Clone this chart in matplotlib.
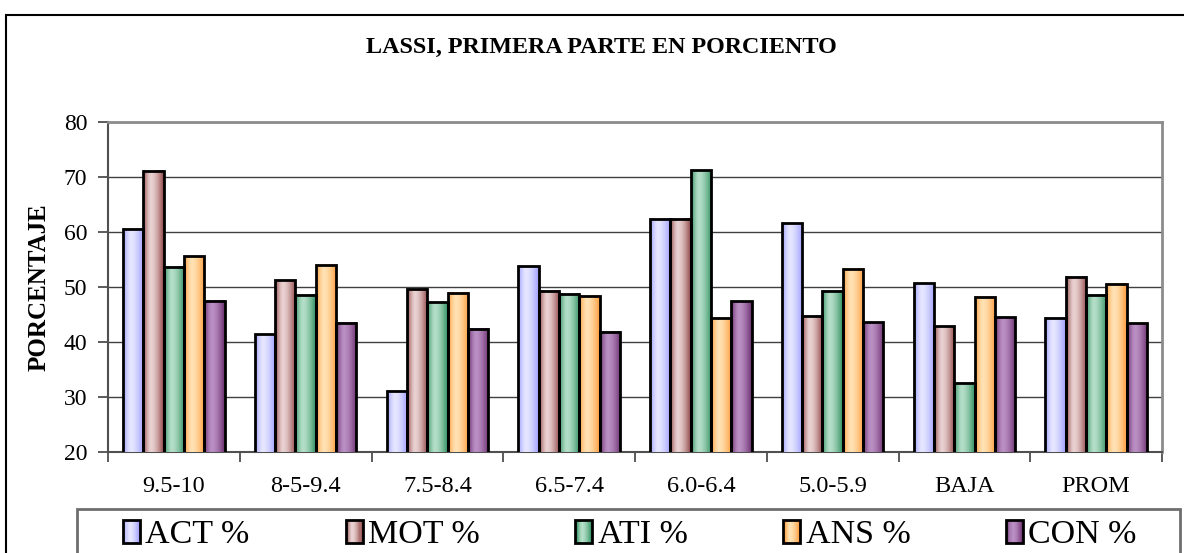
import numpy as np
import matplotlib
matplotlib.use("Agg")
import matplotlib.pyplot as plt
from matplotlib.patches import Rectangle
from matplotlib.legend_handler import HandlerBase
from matplotlib.colors import to_rgb

plt.rcParams["font.family"] = ["Liberation Serif", "DejaVu Serif"]

# ── data ──────────────────────────────────────────────────────────────
categories = ["9.5-10", "8-5-9.4", "7.5-8.4", "6.5-7.4", "6.0-6.4", "5.0-5.9", "BAJA", "PROM"]
series_names = ["ACT %", "MOT %", "ATI %", "ANS %", "CON %"]
act = [60.6, 41.4, 31.1, 53.8, 62.4, 61.6, 50.7, 44.4]
mot = [71.1, 51.2, 49.7, 49.3, 62.4, 44.8, 42.9, 51.9]
ati = [53.7, 48.6, 47.2, 48.8, 71.2, 49.3, 32.6, 48.6]
ans = [55.6, 54.0, 49.0, 48.4, 44.4, 53.3, 48.2, 50.6]
con = [47.5, 43.5, 42.4, 41.9, 47.4, 43.6, 44.5, 43.4]
series_values = [act, mot, ati, ans, con]

# (edge shade, centre highlight) per series
shades = [
    ("#9c9cff", "#e6e6ff"),
    ("#8e4444", "#ead2d2"),
    ("#2f8f5f", "#b4dec8"),
    ("#ff9a38", "#ffe2b4"),
    ("#6a2c6c", "#ba90c4"),
]


def gradient_row(edge, centre, n=64):
    e = np.array(to_rgb(edge))
    c = np.array(to_rgb(centre))
    t = np.linspace(0, 1, n)
    peak = 0.38
    s = np.where(t < peak, 1 - ((peak - t) / peak) ** 1.6, 1 - ((t - peak) / (1 - peak)) ** 1.6)
    s = np.clip(s, 0, 1)
    return (e[None, :] + (c - e)[None, :] * s[:, None])[None, :, :]


class Swatch:
    def __init__(self, edge, centre):
        self.edge = edge
        self.centre = centre


class SwatchHandler(HandlerBase):
    def create_artists(self, legend, orig_handle, xdescent, ydescent,
                       width, height, fontsize, trans):
        row = gradient_row(orig_handle.edge, orig_handle.centre, 16)[0]
        artists = []
        n = len(row)
        for i, col in enumerate(row):
            artists.append(Rectangle((-xdescent + width * i / n, -ydescent), width / n + 0.3,
                                     height, facecolor=col, edgecolor="none", transform=trans))
        artists.append(Rectangle((-xdescent, -ydescent), width, height, facecolor="none",
                                 edgecolor="black", linewidth=2, transform=trans))
        return artists


fig = plt.figure(figsize=(11.84, 5.53), dpi=100)
ax = fig.add_axes([108 / 1184, 1 - 452 / 553, (1162 - 108) / 1184, (452 - 122) / 553])

n_series = len(series_values)
width = 1 / (n_series + 1.5)
x = np.arange(len(categories))

for k, vals in enumerate(series_values):
    offs = x + (k - (n_series - 1) / 2) * width
    bars = ax.bar(offs, vals, width, color="none", edgecolor="black", linewidth=2, zorder=4)
    grad = gradient_row(*shades[k])
    for b in bars:
        bx = b.get_x()
        ax.imshow(grad, extent=[bx, bx + b.get_width(), 0, b.get_height()],
                  aspect="auto", interpolation="bilinear", zorder=3)

ax.set_xlim(-0.5, len(categories) - 0.5)
ax.set_ylim(20, 80)
ax.set_yticks(range(20, 81, 10))
ax.set_xticks(x)
ax.set_xticklabels(categories, fontsize=17.5)
ax.set_xticks(np.arange(-0.5, len(categories), 1), minor=True)
ax.tick_params(axis="x", which="major", length=0, pad=17)
ax.tick_params(axis="x", which="minor", length=7, width=1.2, direction="out", color="#404040")
ax.tick_params(axis="y", length=7, width=1.2, direction="out", color="#404040", pad=8, labelsize=17)
ax.yaxis.grid(True, color="#404040", linewidth=1)
ax.set_axisbelow(True)
for side in ["top", "right"]:
    ax.spines[side].set_color("#8c8c8c")
    ax.spines[side].set_linewidth(2)
ax.spines["left"].set_color("#505050")
ax.spines["left"].set_linewidth(1.5)
ax.spines["bottom"].set_color("#505050")
ax.spines["bottom"].set_linewidth(1.5)

ax.set_ylabel("PORCENTAJE", fontsize=18, fontweight="bold")
ax.yaxis.set_label_coords(-(108 - 51) / 1054, 0.5)

fig.text(601 / 1184, 1 - 47 / 553, "LASSI, PRIMERA PARTE EN PORCIENTO",
         ha="center", va="center", fontsize=17.4, fontweight="bold")

# outer chart frame and legend box
fig.patches.append(Rectangle((6 / 1184, -0.2), 1.2, 1.2 - 14.5 / 553, transform=fig.transFigure,
                             facecolor="none", edgecolor="black", linewidth=1.5))
fig.patches.append(Rectangle((77 / 1184, -0.2), (1180 - 77) / 1184, 0.2 + 1 - 509 / 553,
                             transform=fig.transFigure, facecolor="none",
                             edgecolor="#6e6e6e", linewidth=2))

handles = [Swatch(*s) for s in shades]
fig.legend(handles, series_names, handler_map={Swatch: SwatchHandler()}, ncol=5,
           loc="center", bbox_to_anchor=(630 / 1184, 1 - 535 / 553), frameon=False,
           fontsize=24.5, handlelength=0.5, handleheight=0.7, handletextpad=0.15,
           columnspacing=2.82, borderpad=0)

fig.savefig("out.png", dpi=100)
